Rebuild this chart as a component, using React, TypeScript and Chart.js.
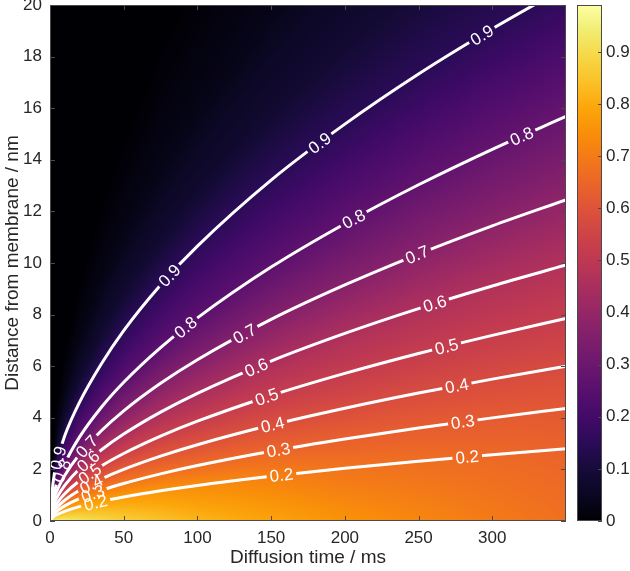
import React, { useEffect, useRef } from 'react';
import { Chart, registerables } from 'chart.js';

Chart.register(...registerables);

// ---------------- data ----------------
const timeGrid = [0, 2, 5, 10, 20, 35, 50, 75, 100, 150, 200, 250, 300, 350];

const contourLevels = [0.2, 0.3, 0.4, 0.5, 0.6, 0.7, 0.8, 0.9];
const level02 = [0, 0.151, 0.254, 0.375, 0.556, 0.762, 0.933, 1.173, 1.38, 1.735, 2.041, 2.316, 2.567, 2.8];
const level03 = [0, 0.236, 0.395, 0.585, 0.865, 1.187, 1.452, 1.826, 2.148, 2.702, 3.178, 3.606, 3.997, 4.36];
const level04 = [0, 0.325, 0.544, 0.805, 1.191, 1.633, 1.999, 2.513, 2.956, 3.718, 4.373, 4.962, 5.5, 6.0];
const level05 = [0, 0.425, 0.712, 1.053, 1.558, 2.137, 2.615, 3.288, 3.868, 4.865, 5.721, 6.492, 7.196, 7.85];
const level06 = [0, 0.565, 0.939, 1.38, 2.027, 2.763, 3.37, 4.22, 4.95, 6.2, 7.27, 8.231, 9.108, 9.92];
const level07 = [0, 0.727, 1.204, 1.763, 2.58, 3.507, 4.27, 5.337, 6.251, 7.814, 9.15, 10.347, 11.439, 12.45];
const level08 = [0, 0.916, 1.516, 2.22, 3.249, 4.417, 5.378, 6.722, 7.873, 9.841, 11.523, 13.032, 14.407, 15.68];
const level09 = [0, 1.45, 2.35, 3.3, 4.6, 6.107, 7.382, 9.151, 10.656, 13.213, 15.382, 17.324, 19.077, 20.7];

// estimated positions of dark shades above the 0.9 contour (not drawn as lines)
const membraneDistance = [0, 0, 0, 0, 0, 0, 0, 0, 0, 0, 0, 0, 0, 0];
const upperShade1 = [0, 1.74, 2.82, 3.96, 5.52, 7.33, 8.86, 10.98, 12.79, 15.86, 18.46, 20.79, 22.89, 24.84];
const upperShade2 = [0, 2.18, 3.53, 4.95, 6.9, 9.16, 11.07, 13.73, 15.98, 19.82, 23.07, 25.99, 28.62, 31.05];
const upperShade3 = [0, 2.9, 4.7, 6.6, 9.2, 12.21, 14.76, 18.3, 21.31, 26.43, 30.76, 34.65, 38.15, 41.4];

// colour value (0..1), at these times
const colourTime = [0, 25, 50, 100, 200, 350];
const colourMembrane = [0.98, 0.92, 0.88, 0.83, 0.76, 0.68];
const colour02 = [0.84, 0.8, 0.78, 0.745, 0.69, 0.65];
const colour03 = [0.75, 0.72, 0.7, 0.67, 0.64, 0.62];
const colour04 = [0.66, 0.64, 0.63, 0.6, 0.585, 0.58];
const colour05 = [0.57, 0.56, 0.55, 0.53, 0.525, 0.53];
const colour06 = [0.47, 0.46, 0.455, 0.45, 0.46, 0.475];
const colour07 = [0.37, 0.36, 0.36, 0.36, 0.37, 0.39];
const colour08 = [0.26, 0.26, 0.26, 0.26, 0.27, 0.29];
const colour09 = [0.15, 0.15, 0.15, 0.155, 0.15, 0.15];
const colourUpper1 = [0.08, 0.08, 0.08, 0.08, 0.085, 0.09];
const colourUpper2 = [0.03, 0.03, 0.03, 0.03, 0.035, 0.04];
const colourUpper3 = [0, 0, 0, 0, 0, 0];

// contour label positions (times)
const labelTimes02 = [31, 157, 283];
const labelTimes03 = [29, 155, 280];
const labelTimes04 = [28, 151, 276];
const labelTimes05 = [27, 147, 269];
const labelTimes06 = [26, 140, 261];
const labelTimes07 = [25, 132, 249];
const labelTimes08 = [8, 92, 206, 320];
const labelTimes09 = [5.5, 81, 183, 293];

const xTicks = [0, 50, 100, 150, 200, 250, 300];
const yTicks = [0, 2, 4, 6, 8, 10, 12, 14, 16, 18, 20];
const cbTicks = [0, 0.1, 0.2, 0.3, 0.4, 0.5, 0.6, 0.7, 0.8, 0.9];
const cbMax = 0.99;

const infernoStops = [
  '#000004', '#0a0722', '#160b39', '#2a0b57', '#420a68', '#570f6d', '#6a176e',
  '#7e1e6c', '#932667', '#a82e5f', '#bc3754', '#cc4248', '#dd513a', '#ea632a',
  '#f37819', '#f98e09', '#fca50a', '#fac127', '#f6d746', '#f1ed71', '#fcffa4',
];

// ---------------- helpers ----------------
const FONT = '"Liberation Sans", Arial, Helvetica, sans-serif';
const TEXT_COLOR = '#262626';
const AXIS_COLOR = '#4a4a4a';
const LABEL_FONT = `17px ${FONT}`;

const contourDistances = [level02, level03, level04, level05, level06, level07, level08, level09];
const contourLabelTimes = [labelTimes02, labelTimes03, labelTimes04, labelTimes05, labelTimes06, labelTimes07, labelTimes08, labelTimes09];
const fieldLines = [membraneDistance, level02, level03, level04, level05, level06, level07, level08, level09, upperShade1, upperShade2, upperShade3];
const fieldColours = [colourMembrane, colour02, colour03, colour04, colour05, colour06, colour07, colour08, colour09, colourUpper1, colourUpper2, colourUpper3];

function interp(xs: number[], ys: number[], x: number): number {
  if (x <= xs[0]) return ys[0];
  const n = xs.length;
  if (x >= xs[n - 1]) {
    const s = (ys[n - 1] - ys[n - 2]) / (xs[n - 1] - xs[n - 2]);
    return ys[n - 1] + s * (x - xs[n - 1]);
  }
  for (let i = 0; i < n - 1; i++) {
    if (x <= xs[i + 1]) {
      const f = (x - xs[i]) / (xs[i + 1] - xs[i]);
      return ys[i] + f * (ys[i + 1] - ys[i]);
    }
  }
  return ys[n - 1];
}

function hexRgb(h: string): number[] {
  return [parseInt(h.slice(1, 3), 16), parseInt(h.slice(3, 5), 16), parseInt(h.slice(5, 7), 16)];
}
const stopRgb = infernoStops.map(hexRgb);
function inferno(c: number): number[] {
  const v = Math.max(0, Math.min(1, c)) * (stopRgb.length - 1);
  const i = Math.min(stopRgb.length - 2, Math.floor(v));
  const f = v - i;
  const a = stopRgb[i], b = stopRgb[i + 1];
  return [a[0] + (b[0] - a[0]) * f, a[1] + (b[1] - a[1]) * f, a[2] + (b[2] - a[2]) * f];
}

function buildField(chart: any): HTMLCanvasElement {
  const a = chart.chartArea;
  const xs = chart.scales.x, ys = chart.scales.y;
  const W = Math.round(a.right - a.left), H = Math.round(a.bottom - a.top);
  const cv = document.createElement('canvas');
  cv.width = W; cv.height = H;
  const cctx = cv.getContext('2d')!;
  const img = cctx.createImageData(W, H);
  const L = fieldLines.length;
  const dl = new Array(L).fill(0), cl = new Array(L).fill(0);
  for (let i = 0; i < W; i++) {
    const t = xs.getValueForPixel(a.left + i + 0.5);
    for (let k = 0; k < L; k++) {
      dl[k] = interp(timeGrid, fieldLines[k], t);
      cl[k] = interp(colourTime, fieldColours[k], t);
    }
    for (let j = 0; j < H; j++) {
      const d = ys.getValueForPixel(a.top + j + 0.5);
      let c: number;
      if (d <= dl[0]) c = cl[0];
      else if (d >= dl[L - 1]) c = cl[L - 1];
      else {
        let k = 0;
        while (k < L - 2 && d > dl[k + 1]) k++;
        const span = dl[k + 1] - dl[k];
        const f = span > 1e-9 ? (d - dl[k]) / span : 1;
        c = cl[k] + f * (cl[k + 1] - cl[k]);
      }
      const rgb = inferno(c);
      const p = (j * W + i) * 4;
      img.data[p] = rgb[0]; img.data[p + 1] = rgb[1]; img.data[p + 2] = rgb[2]; img.data[p + 3] = 255;
    }
  }
  cctx.putImageData(img, 0, 0);
  return cv;
}

type LabelItem = { k: number; px: number; py: number; ang: number; w: number; text: string };

function labelItems(chart: any): LabelItem[] {
  const xs = chart.scales.x, ys = chart.scales.y, a = chart.chartArea;
  const ctx = chart.ctx;
  ctx.save();
  ctx.font = LABEL_FONT;
  const items: LabelItem[] = [];
  contourDistances.forEach((dist, k) => {
    contourLabelTimes[k].forEach((t) => {
      const pt = (tt: number) => [xs.getPixelForValue(tt), ys.getPixelForValue(interp(timeGrid, dist, tt))];
      const [px, py] = pt(t);
      if (py < a.top + 6) return;
      const [x1, y1] = pt(Math.max(0, t - 2));
      const [x2, y2] = pt(t + 2);
      let ang = Math.atan2(y2 - y1, x2 - x1);
      if (ang > Math.PI / 2) ang -= Math.PI;
      if (ang < -Math.PI / 2) ang += Math.PI;
      const text = contourLevels[k].toFixed(1);
      items.push({ k, px, py, ang, w: ctx.measureText(text).width, text });
    });
  });
  ctx.restore();
  return items;
}

function rotRect(ctx: CanvasRenderingContext2D, it: LabelItem, padX: number, halfH: number) {
  const c = Math.cos(it.ang), s = Math.sin(it.ang);
  const hw = it.w / 2 + padX;
  const pts = [[-hw, -halfH], [hw, -halfH], [hw, halfH], [-hw, halfH]];
  pts.forEach(([u, v], i) => {
    const X = it.px + u * c - v * s, Y = it.py + u * s + v * c;
    if (i) ctx.lineTo(X, Y); else ctx.moveTo(X, Y);
  });
  ctx.closePath();
}

const contourPlugin = {
  id: 'contourField',
  beforeDatasetsDraw(chart: any) {
    const a = chart.chartArea;
    const key = `${a.left},${a.top},${a.right},${a.bottom}`;
    if (!chart.$field || chart.$fieldKey !== key) {
      chart.$field = buildField(chart);
      chart.$fieldKey = key;
    }
    chart.ctx.drawImage(chart.$field, a.left, a.top);
    chart.$labels = labelItems(chart);
  },
  beforeDatasetDraw(chart: any, args: any) {
    const ctx = chart.ctx;
    ctx.save();
    ctx.beginPath();
    ctx.rect(0, 0, chart.width, chart.height);
    (chart.$labels || []).filter((it: LabelItem) => it.k === args.index).forEach((it: LabelItem) => rotRect(ctx, it, 3, 9));
    ctx.clip('evenodd');
  },
  afterDatasetDraw(chart: any) {
    chart.ctx.restore();
  },
  afterDatasetsDraw(chart: any) {
    const ctx = chart.ctx, a = chart.chartArea;
    ctx.save();
    ctx.beginPath();
    ctx.rect(a.left, a.top, a.right - a.left, a.bottom - a.top);
    ctx.clip();
    ctx.font = LABEL_FONT;
    ctx.fillStyle = '#ffffff';
    ctx.textAlign = 'center';
    ctx.textBaseline = 'middle';
    (chart.$labels || []).forEach((it: LabelItem) => {
      ctx.save();
      ctx.translate(it.px, it.py);
      ctx.rotate(it.ang);
      ctx.fillText(it.text, 0, 1);
      ctx.restore();
    });
    ctx.restore();
  },
  afterDraw(chart: any) {
    const ctx = chart.ctx, a = chart.chartArea;
    const xs = chart.scales.x, ys = chart.scales.y, cb = chart.scales.cb;
    ctx.save();
    // plot box
    ctx.strokeStyle = AXIS_COLOR;
    ctx.lineWidth = 1;
    ctx.strokeRect(a.left + 0.5, a.top + 0.5, a.right - a.left - 1, a.bottom - a.top - 1);
    ctx.beginPath();
    xTicks.forEach((v) => {
      const x = Math.round(xs.getPixelForValue(v)) + 0.5;
      ctx.moveTo(x, a.bottom); ctx.lineTo(x, a.bottom - 5);
      ctx.moveTo(x, a.top); ctx.lineTo(x, a.top + 5);
    });
    yTicks.forEach((v) => {
      const y = Math.round(ys.getPixelForValue(v)) + 0.5;
      ctx.moveTo(a.left, y); ctx.lineTo(a.left + 5, y);
      ctx.moveTo(a.right, y); ctx.lineTo(a.right - 5, y);
    });
    ctx.stroke();
    // colour bar
    const bx = cb.left + 11, bw = 25;
    const y0 = cb.getPixelForValue(0), y1 = cb.getPixelForValue(cbMax);
    const g = ctx.createLinearGradient(0, y0, 0, y1);
    infernoStops.forEach((c, i) => g.addColorStop(i / (infernoStops.length - 1), c));
    ctx.fillStyle = g;
    ctx.fillRect(bx, y1, bw, y0 - y1);
    ctx.strokeRect(bx + 0.5, y1 + 0.5, bw - 1, y0 - y1 - 1);
    ctx.beginPath();
    cbTicks.forEach((v) => {
      const y = Math.round(cb.getPixelForValue(v)) + 0.5;
      ctx.moveTo(bx + bw, y); ctx.lineTo(bx + bw - 4, y);
    });
    ctx.stroke();
    ctx.restore();
  },
};

function tickText(v: number): string {
  if (v === 0) return '0';
  return Number.isInteger(v) ? String(v) : v.toFixed(1);
}

function noPad(s: any) {
  s.paddingTop = 0; s.paddingBottom = 0; s.paddingLeft = 0; s.paddingRight = 0;
}

export default function App() {
  const ref = useRef<HTMLCanvasElement>(null);
  useEffect(() => {
    const datasets = contourDistances.map((dist, k) => ({
      label: contourLevels[k].toFixed(1),
      data: timeGrid.map((t, i) => ({ x: t, y: dist[i] })),
      showLine: true,
      borderColor: '#ffffff',
      borderWidth: 3,
      pointRadius: 0,
      fill: false,
      cubicInterpolationMode: 'monotone' as const,
      clip: 0,
    }));
    const tickFont = { family: FONT, size: 17 };
    const titleFont = { family: FONT, size: 19 };
    const noGrid = { display: false, drawTicks: false, tickLength: 0 };
    const chart = new Chart(ref.current!, {
      type: 'scatter',
      data: { datasets },
      options: {
        animation: false,
        responsive: false,
        devicePixelRatio: 1,
        events: [],
        layout: { padding: { top: 5, left: 0, right: 0, bottom: 0 } },
        plugins: { legend: { display: false }, tooltip: { enabled: false } },
        scales: {
          x: {
            type: 'linear', min: 0, max: 350, position: 'bottom',
            grid: noGrid, border: { display: false },
            afterBuildTicks: (s: any) => { s.ticks = xTicks.map((v) => ({ value: v })); },
            afterFit: (s: any) => { s.height = 50; noPad(s); },
            ticks: { font: tickFont, color: TEXT_COLOR, padding: 7, maxRotation: 0, autoSkip: false, callback: (v: any) => tickText(Number(v)) },
            title: { display: true, text: 'Diffusion time / ms', font: titleFont, color: TEXT_COLOR, padding: { top: 0, bottom: 2 } },
          },
          y: {
            type: 'linear', min: 0, max: 20, position: 'left',
            grid: noGrid, border: { display: false },
            afterBuildTicks: (s: any) => { s.ticks = yTicks.map((v) => ({ value: v })); },
            afterFit: (s: any) => { s.width = 50; noPad(s); },
            ticks: { font: tickFont, color: TEXT_COLOR, padding: 8, autoSkip: false, callback: (v: any) => tickText(Number(v)) },
            title: { display: true, text: 'Distance from membrane / nm', font: titleFont, color: TEXT_COLOR, padding: { top: 1, bottom: 0 } },
          },
          cb: {
            type: 'linear', min: 0, max: cbMax, position: 'right',
            grid: noGrid, border: { display: false },
            afterBuildTicks: (s: any) => { s.ticks = cbTicks.map((v) => ({ value: v })); },
            afterFit: (s: any) => { s.width = 64; noPad(s); },
            ticks: { font: tickFont, color: TEXT_COLOR, padding: 40, autoSkip: false, callback: (v: any) => tickText(Number(v)) },
          },
        },
      } as any,
      plugins: [contourPlugin as any],
    });
    return () => chart.destroy();
  }, []);
  return (
    <div style={{ position: 'fixed', left: 0, top: 0, width: 630, height: 571, background: '#ffffff' }}>
      <canvas ref={ref} width={630} height={571} style={{ display: 'block', width: 630, height: 571 }} />
    </div>
  );
}
